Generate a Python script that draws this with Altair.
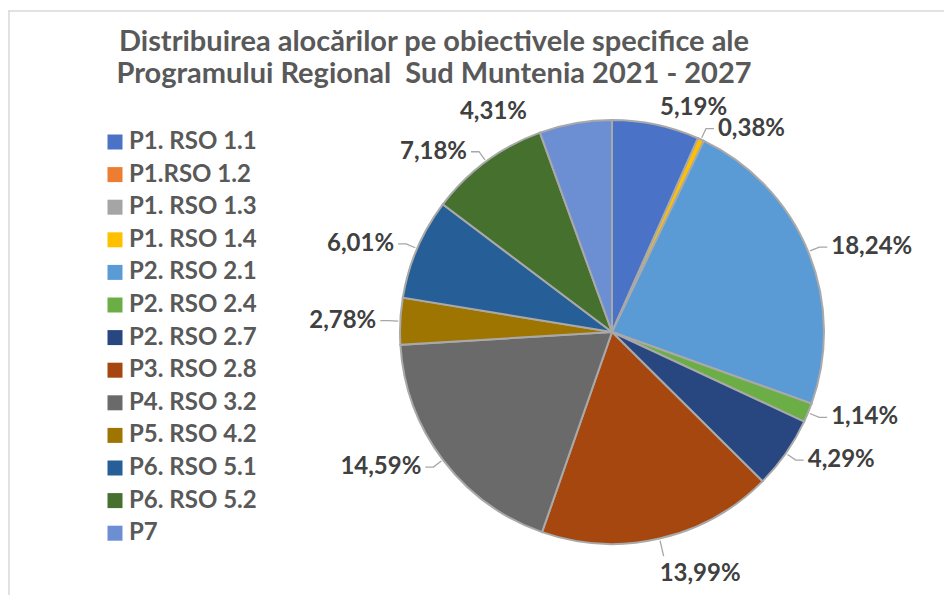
import math
import altair as alt
import pandas as pd

# ---------------- data ----------------
categories = ["P1. RSO 1.1", "P1.RSO 1.2", "P1. RSO 1.3", "P1. RSO 1.4",
              "P2. RSO 2.1", "P2. RSO 2.4", "P2. RSO 2.7", "P3. RSO 2.8",
              "P4. RSO 3.2", "P5. RSO 4.2", "P6. RSO 5.1", "P6. RSO 5.2", "P7"]
shares = [5.19, 0.0, 0.0, 0.38, 18.24, 1.14, 4.29, 13.99, 14.59, 2.78, 6.01, 7.18, 4.31]
colors = ["#4A72C6", "#ED7D31", "#A5A5A5", "#FFC000", "#5B9BD5", "#6AAE45",
          "#284780", "#A5470F", "#6A6A6A", "#9E7500", "#265F97", "#45702D", "#6C8FD3"]
title_lines = ["Distribuirea alocărilor pe obiectivele specifice ale",
               "Programului Regional\u00a0 Sud Muntenia 2021 - 2027"]
no_leader = ["P1. RSO 1.1", "P7"]

# ---------------- geometry (pixels in the view) ----------------
CX, CY, R = 599, 319, 212
W, H = 931, 582
FONT = "Lato"

df = pd.DataFrame({"cat": categories, "share": shares, "idx": list(range(len(categories)))})
df["label"] = df["share"].map(lambda v: f"{v:.2f}".replace(".", ",") + "%")
total = df["share"].sum()
df["start"] = df["share"].cumsum() - df["share"]
df["mid"] = (df["start"] + df["share"] / 2) / total * 2 * math.pi
pos = df[df["share"] > 0].copy()

rows_lead, lx, ly, kind = [], [], [], []
for _, r in pos.iterrows():
    s, c = math.sin(r["mid"]), math.cos(r["mid"])
    p0 = (CX + 214 * s, CY - 214 * c)
    if abs(s) >= 0.35:
        k = "right" if s > 0 else "left"
        p1 = (CX + 224 * s, CY - 224 * c)
        p2 = (p1[0] + (8 if s > 0 else -8), p1[1])
        ax = p2[0] + (4 if s > 0 else -4)
        ay = p2[1]
    elif c < 0:
        k = "bottom"
        p1 = (CX + 230 * s, CY - 230 * c)
        p2 = p1
        ax, ay = p1[0] - 4, p1[1] + 6
    else:
        k = "topr" if s > 0 else "topl"
        p1 = (CX + 232 * s, CY - 232 * c)
        p2 = p1
        ax, ay = p1[0], p1[1]
    lx.append(ax); ly.append(ay); kind.append(k)
    if r["cat"] not in no_leader:
        for j, p in enumerate([p0, p1, p2]):
            rows_lead.append({"cat": r["cat"], "o": j, "x": p[0], "y": p[1]})
pos["lx"], pos["ly"], pos["kind"] = lx, ly, kind
lead = pd.DataFrame(rows_lead)

color_scale = alt.Scale(domain=categories, range=colors)

arcs = alt.Chart(pos).mark_arc(
    outerRadius=R, x=CX, y=CY, stroke="#a9a9a9", strokeWidth=2
).encode(
    theta=alt.Theta("share:Q", stack=True),
    order=alt.Order("idx:Q"),
    color=alt.Color("cat:N", scale=color_scale, sort=categories,
                    legend=alt.Legend(title=None, orient="none", legendX=90, legendY=117,
                                      symbolType="square", symbolSize=225,
                                      symbolStrokeWidth=0, labelFont=FONT,
                                      labelFontSize=24, labelFontWeight="bold",
                                      labelColor="#595959", labelOffset=2,
                                      rowPadding=8.6, padding=0, labelLimit=300)),
)

leaders = alt.Chart(lead).mark_line(color="#a6a6a6", strokeWidth=1.3).encode(
    x=alt.X("x:Q", scale=None), y=alt.Y("y:Q", scale=None),
    detail="cat:N", order="o:Q",
)

def label_layer(kinds, align, baseline, dx=0, dy=0):
    base = alt.Chart(pos).transform_filter(alt.FieldOneOfPredicate(field="kind", oneOf=kinds))
    return base.mark_text(align=align, baseline=baseline, dx=dx, dy=dy, font=FONT,
                          fontSize=24, fontWeight="bold", color="#404040").encode(
        x=alt.X("lx:Q", scale=None), y=alt.Y("ly:Q", scale=None), text="label:N")

lab_right = label_layer(["right"], "left", "middle")
lab_topr = label_layer(["topr"], "left", "middle", dy=3)
lab_left = label_layer(["left"], "right", "middle")
lab_bottom = label_layer(["bottom"], "left", "top")
lab_topl = label_layer(["topl"], "right", "middle", dx=-45, dy=9)

title = alt.Chart(pd.DataFrame({"t": [0]})).mark_text(
    align="center", baseline="alphabetic", font=FONT, fontSize=29, fontWeight="bold",
    color="#595959", lineHeight=32
).encode(x=alt.value(421), y=alt.value(38), text=alt.value(title_lines))

frame_top = alt.Chart(pd.DataFrame({"t": [0]})).mark_rule(color="#d9d9d9", strokeWidth=1.5).encode(
    x=alt.value(-5), x2=alt.value(W), y=alt.value(-2))
frame_left = alt.Chart(pd.DataFrame({"t": [0]})).mark_rule(color="#d9d9d9", strokeWidth=1.5).encode(
    x=alt.value(-4), y=alt.value(-2), y2=alt.value(H))

chart = alt.layer(frame_top, frame_left, arcs, leaders, lab_right, lab_topr, lab_left,
                  lab_bottom, lab_topl, title).properties(
    width=W, height=H, autosize=alt.AutoSizeParams(type="none"),
    padding={"left": 5, "top": 5, "right": 0, "bottom": 0},
).configure_view(stroke=None)

chart.save("out.html", embed_options={"renderer": "svg", "actions": False})
